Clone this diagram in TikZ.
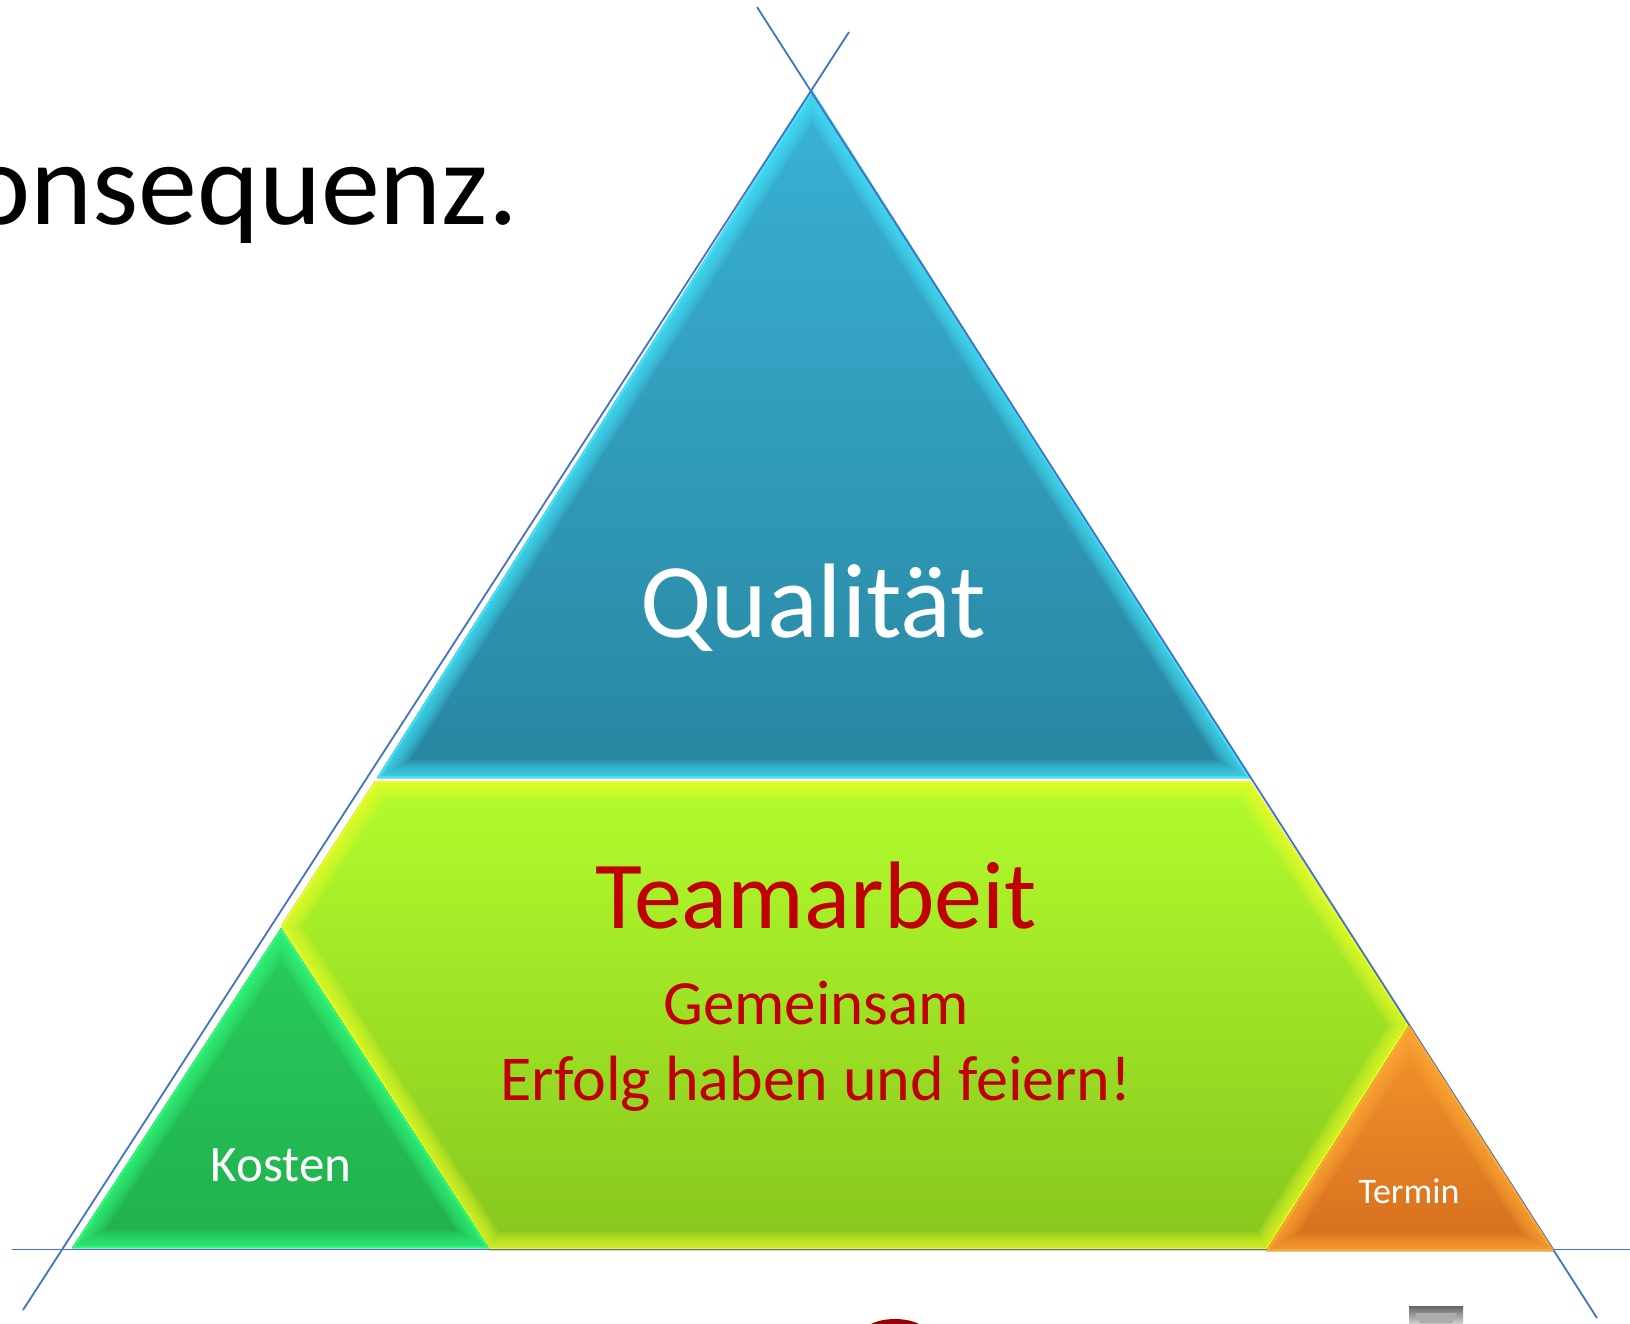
\documentclass[tikz,border=0pt]{standalone}
\usepackage{fontspec}
\setmainfont{Carlito}
\definecolor{lineblue}{RGB}{68,114,196}
\definecolor{txtred}{RGB}{192,0,0}
\definecolor{bluetop}{RGB}{58,178,214}
\definecolor{bluebot}{RGB}{40,134,160}
\definecolor{blueglow}{RGB}{70,235,255}
\definecolor{greentop}{RGB}{178,252,44}
\definecolor{greenbot}{RGB}{136,198,30}
\definecolor{greenglow}{RGB}{240,255,40}
\definecolor{kosttop}{RGB}{42,204,92}
\definecolor{kostbot}{RGB}{32,176,78}
\definecolor{kostglow}{RGB}{52,255,128}
\definecolor{orgtop}{RGB}{244,150,44}
\definecolor{orgbot}{RGB}{214,110,30}
\definecolor{orgglow}{RGB}{255,172,56}
\newcommand\bevelshape[4]{%
  \begin{scope}
    \clip #1;
    \fill[top color=#2, bottom color=#3] #1;
    \foreach \w in {36,32,...,4}{
      \draw[#4, line width=\w, opacity=0.13, line join=miter] #1;
    }
    \draw[#4, line width=4, opacity=0.7, line join=miter] #1;
  \end{scope}}
\tikzset{
  guide/.style={draw=lineblue, line width=1.8pt},
  whitelbl/.style={text=white, inner sep=0pt, anchor=base},
  redlbl/.style={text=txtred, inner sep=0pt, anchor=base}
}
\begin{document}
\begin{tikzpicture}[x=1pt,y=-1pt]
\useasboundingbox (0,0) rectangle (1630,1323);
\fill[white] (0,0) rectangle (1630,1323);

% title fragment
\node[anchor=base west, inner sep=0pt, font=\fontsize{118}{124}\selectfont] (title) at (-32,224) {onsequenz.};

% shapes
\bevelshape{(812,90) -- (377,778) -- (1250,778) -- cycle}{bluetop}{bluebot}{blueglow}
\bevelshape{(375,781) -- (1250,781) -- (1409,1025) -- (1267,1250) -- (489,1250) -- (281,926) -- cycle}{greentop}{greenbot}{greenglow}
\bevelshape{(281,928) -- (489,1248) -- (72,1248) -- cycle}{kosttop}{kostbot}{kostglow}

% guide lines
\coordinate (h1) at (12,1249.5);
\coordinate (h2) at (1630,1249.5);
\coordinate (r1) at (757,7);
\coordinate (r2) at (1597,1318);
\coordinate (s1) at (849,32);
\coordinate (s2) at (23,1310);
\draw[guide] (h1) -- (h2);
\draw[guide] (r1) -- (r2);
\draw[guide] (s1) -- (s2);

\bevelshape{(1409,1025) -- (1554,1251) -- (1266,1251) -- cycle}{orgtop}{orgbot}{orgglow}

% labels
\node[whitelbl, font=\fontsize{106}{110}\selectfont] (qual) at (813,637) {Qualität};
\node[redlbl, font=\fontsize{96}{100}\selectfont] (team) at (816,928) {Teamarbeit};
\node[redlbl, font=\fontsize{63}{70}\selectfont] (gem) at (816,1024) {Gemeinsam};
\node[redlbl, font=\fontsize{64}{70}\selectfont] (erf) at (816,1100) {Erfolg haben und feiern!};
\node[whitelbl, font=\fontsize{51}{56}\selectfont] (kost) at (281,1181) {Kosten};
\node[whitelbl, font=\fontsize{36}{40}\selectfont] (term) at (1409,1203) {Termin};

% bottom fragments
\fill[top color=gray!80!black, bottom color=gray!40] (1409,1306) rectangle (1463,1323);
\fill[gray!65] (1415,1313) -- (1457,1313) -- (1452,1323) -- (1420,1323) -- cycle;
\fill[txtred!80!black] (895,1336) ellipse [x radius=34, y radius=17];
\end{tikzpicture}
\end{document}
